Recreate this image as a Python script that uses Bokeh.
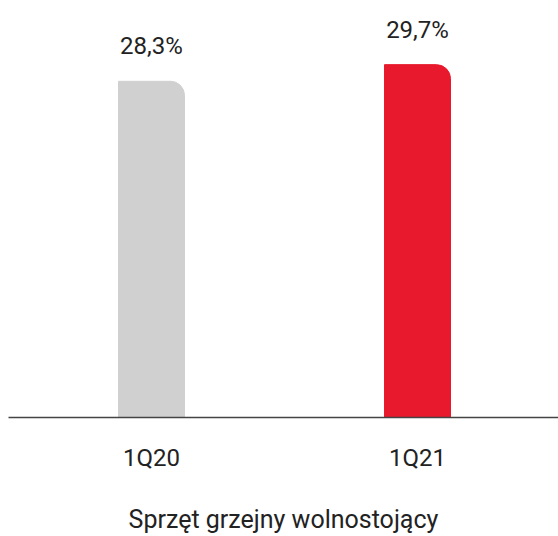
from bokeh.plotting import figure
from bokeh.models import ColumnDataSource, Range1d, FixedTicker
from bokeh.core.properties import value
from bokeh.embed import file_html
from bokeh.resources import INLINE

categories = ["1Q20", "1Q21"]
values = [28.3, 29.7]
colors = ["#d0d0d0", "#e8192c"]
axis_title = "Sprzęt grzejny wolnostojący"

xs = list(range(len(categories)))
labels = [f"{v:.1f}".replace(".", ",") + "%" for v in values]
src = ColumnDataSource(dict(x=xs, top=values, color=colors, label=labels))

p = figure(width=558, height=536, output_backend="svg", toolbar_location=None,
           x_range=Range1d(-0.5376, 1.530), y_range=Range1d(0, 35.1),
           min_border_left=8, min_border_right=0, min_border_top=0, min_border_bottom=118)

p.vbar(x="x", top="top", bottom=0, width=0.248, color="color", source=src,
       border_radius=(0, 14, 0, 0))
p.text(x="x", y="top", text="label", source=src, text_align="center",
       text_baseline="alphabetic", y_offset=-35, text_font=value("Roboto"),
       text_font_size="24px", text_color="#222222")

p.yaxis.visible = False
p.grid.visible = False
p.outline_line_color = None

ax = p.xaxis[0]
ax.ticker = FixedTicker(ticks=xs)
ax.major_label_overrides = {i: c for i, c in zip(xs, categories)}
ax.major_tick_line_color = None
ax.minor_tick_line_color = None
ax.axis_line_color = "#444444"
ax.axis_line_width = 1.5
ax.major_label_text_font = "Roboto"
ax.major_label_text_font_size = "24px"
ax.major_label_text_color = "#222222"
ax.major_label_standoff = 20
ax.axis_label = axis_title
ax.axis_label_text_font = "Roboto"
ax.axis_label_text_font_size = "25px"
ax.axis_label_text_font_style = "normal"
ax.axis_label_text_color = "#222222"
ax.axis_label_standoff = 30

open("out.html", "w").write(file_html(p, INLINE))
